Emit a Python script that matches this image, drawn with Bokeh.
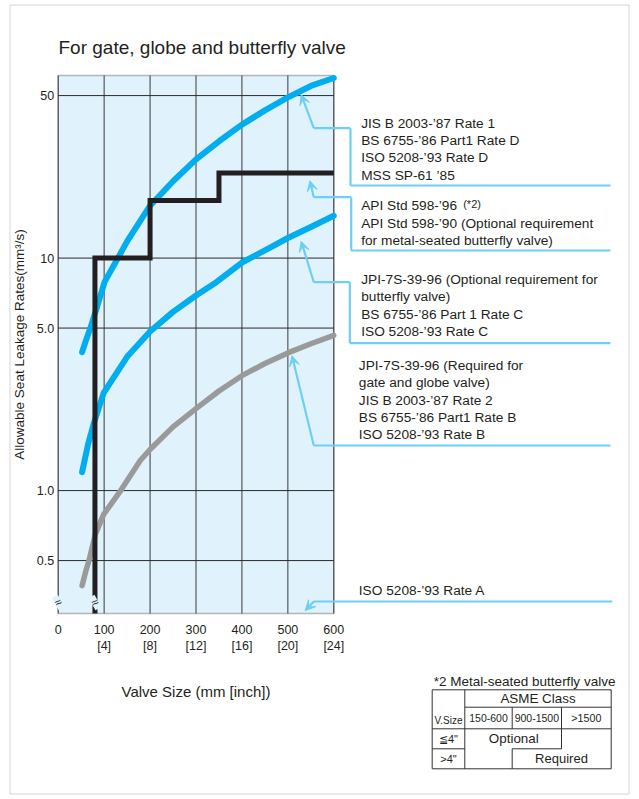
import math
from bokeh.plotting import figure
from bokeh.models import (Range1d, FixedTicker, Label, Arrow, VeeHead, BoxAnnotation,
                          LogScale, LogAxis, LinearAxis)
from bokeh.embed import file_html
from bokeh.resources import INLINE

# ---------------- data ----------------
# Valve size (mm) and allowable seat leakage (mm^3/s)
sizes_D = [52, 60, 70, 85, 101, 130, 150, 200, 250, 300, 350, 400, 450, 500, 550, 600]
rate_D = [3.94, 4.4, 5.0, 6.2, 7.9, 10.0, 11.8, 16.8, 21.4, 26.6, 31.8, 37.5, 43.2, 49.1, 55.0, 59.5]

sizes_C = [52, 65, 78, 99, 150, 200, 250, 300, 345, 400, 450, 500, 550, 600]
rate_C = [1.20, 1.58, 1.96, 2.63, 3.76, 4.83, 5.87, 6.9, 7.9, 9.57, 10.8, 12.2, 13.6, 15.2]

sizes_B = [52, 60, 67, 81, 99, 136, 179, 201, 250, 300, 350, 400, 450, 500, 550, 600]
rate_B = [0.39, 0.45, 0.5, 0.65, 0.79, 1.0, 1.35, 1.51, 1.88, 2.25, 2.68, 3.12, 3.52, 3.91, 4.28, 4.65]

# API 598 step line
step_sizes = [80, 200, 350, 600]
step_rates = [10, 17.7, 23.2, 23.2]

x_ticks = [0, 100, 200, 300, 400, 500, 600]
x_tick_labels = ["0", "100\n[4]", "200\n[8]", "300\n[12]", "400\n[16]", "500\n[20]", "600\n[24]"]
y_ticks = [0.5, 1, 5, 10, 50]
y_tick_labels = ["0.5", "1.0", "5.0", "10", "50"]

X_MIN, X_MAX = 0, 600
Y_MIN, Y_MAX = 0.296, 61.0

# ---------------- layout (canvas pixels) ----------------
W, H = 636, 797
PL, PR, PT, PB = 57.7, 333.3, 75, 613   # chart area inside the canvas
kx = (PR - PL) / (X_MAX - X_MIN)
decade = (PB - PT) / math.log10(Y_MAX / Y_MIN)
xr = Range1d(X_MIN - PL / kx, X_MIN + (W - PL) / kx)
yr = Range1d(Y_MIN * 10 ** (-(H - PB) / decade), Y_MAX * 10 ** (PT / decade))

FONT = "Liberation Sans"
TXT = "#231f20"
BLUE = "#00aeef"
GREY = "#9a9a9a"
LINK = "#6dcff6"
AREA = "#e0f2fc"

p = figure(width=W, height=H, x_range=xr, y_range=yr, x_axis_type=None, y_axis_type=None,
           output_backend="svg", toolbar_location=None, min_border=0)
p.y_scale = LogScale()
p.background_fill_color = "white"
p.border_fill_color = "white"
p.outline_line_color = None
p.grid.visible = False

# chart area
p.add_layout(BoxAnnotation(left=X_MIN, right=X_MAX, bottom=Y_MIN, top=Y_MAX, fill_color=AREA,
                           fill_alpha=1, line_color=None, level="underlay"))
p.segment(x0=x_ticks, y0=[Y_MIN] * len(x_ticks), x1=x_ticks, y1=[Y_MAX] * len(x_ticks),
          line_color="#3a3a3a", line_width=1)
p.segment(x0=[X_MIN] * len(y_ticks), y0=y_ticks, x1=[X_MAX] * len(y_ticks), y1=y_ticks,
          line_color="#2a2a2a", line_width=1)
p.add_layout(BoxAnnotation(left=X_MIN, right=X_MAX, bottom=Y_MIN, top=Y_MAX, fill_alpha=0,
                           line_color=TXT, line_width=1.4, level="underlay"))

# axes placed at the chart area edges
yax = LogAxis(fixed_location=X_MIN, bounds=(Y_MIN, Y_MAX),
              ticker=FixedTicker(ticks=y_ticks, minor_ticks=[]))
yax.major_label_overrides = {t: l for t, l in zip(y_ticks, y_tick_labels)}
xax = LinearAxis(fixed_location=Y_MIN, bounds=(X_MIN, X_MAX),
                 ticker=FixedTicker(ticks=x_ticks, minor_ticks=[]))
xax.major_label_overrides = {t: l for t, l in zip(x_ticks, x_tick_labels)}
for ax in (xax, yax):
    ax.axis_line_color = None
    ax.major_tick_line_color = None
    ax.minor_tick_line_color = None
    ax.major_tick_out = 0
    ax.major_tick_in = 0
    ax.major_label_text_font = FONT
    ax.major_label_text_font_size = "12.5px"
    ax.major_label_text_color = TXT
    ax.axis_label_text_font = FONT
    ax.axis_label_text_font_style = "normal"
    ax.axis_label_text_color = TXT
yax.major_label_standoff = 4
xax.major_label_standoff = 9
yax.axis_label = "Allowable Seat Leakage Rates(mm\u00b3/s)"
yax.axis_label_text_font_size = "13.5px"
yax.axis_label_standoff = 7
xax.axis_label = "Valve Size (mm [inch])"
xax.axis_label_text_font_size = "15px"
xax.axis_label_standoff = 27
p.add_layout(yax, "left")
p.add_layout(xax, "below")

# curves
p.line(sizes_B, rate_B, line_color=GREY, line_width=5.5, line_cap="round", line_join="round")
p.line(sizes_C, rate_C, line_color=BLUE, line_width=6, line_cap="round", line_join="round")
p.line(sizes_D, rate_D, line_color=BLUE, line_width=6, line_cap="round", line_join="round")

sx, sy = [step_sizes[0]], [Y_MIN]
for i in range(len(step_sizes)):
    sx.append(step_sizes[i]); sy.append(step_rates[i])
    if i + 1 < len(step_sizes):
        sx.append(step_sizes[i + 1]); sy.append(step_rates[i])
p.line(sx, sy, line_color=TXT, line_width=5, line_join="miter")

# axis break marks
for bx in (X_MIN, step_sizes[0]):
    p.add_layout(Label(x=bx, y=0.33, text="\u2248", text_font=FONT, text_font_size="12px",
                       text_align="center", text_baseline="middle", text_color=TXT,
                       angle=0.5, background_fill_color=AREA))

# helpers in page (= canvas) coordinates
def lab(text, px, py, size, align="left", color=TXT):
    p.add_layout(Label(x=px, y=py, x_units="canvas", y_units="canvas", text=text,
                       text_font=FONT, text_font_size=size, text_align=align,
                       text_baseline="middle", text_color=color))

def seg(x0, y0, x1, y1, color=LINK, width=2.2):
    p.add_layout(Arrow(end=None, x_start=x0, y_start=y0, x_end=x1, y_end=y1,
                       start_units="canvas", end_units="canvas", line_color=color, line_width=width))

def connector(tip, pts):
    (x0, y0) = pts[0]
    p.add_layout(Arrow(end=VeeHead(size=10, fill_color=LINK, line_color=LINK),
                       x_start=x0, y_start=y0, start_units="canvas",
                       x_end=tip[0], y_end=tip[1], end_units="data",
                       line_color=LINK, line_width=2.2))
    for (a, b), (c, d) in zip(pts[:-1], pts[1:]):
        seg(a, b, c, d)

# outer border
p.add_layout(BoxAnnotation(left=9.5, right=628.5, top=4.5, bottom=793.5,
                           left_units="canvas", right_units="canvas",
                           top_units="canvas", bottom_units="canvas",
                           fill_alpha=0, line_color="#7a7a7a", line_width=1))

# title
lab("For gate, globe and butterfly valve", 58, 47, "19px")

# annotation blocks
F = "13.7px"
for i, t in enumerate(["JIS B 2003-\u201987 Rate 1", "BS 6755-\u201986 Part1 Rate D",
                       "ISO 5208-\u201993 Rate D", "MSS SP-61 \u201985"]):
    lab(t, 360.7, 122.7 + 17.3 * i, F)
connector((529, 50.5), [(313.3, 127.7), (350, 127.7), (350, 185), (610, 185)])

lab("API Std 598-\u201996", 360.7, 205, F)
lab("(*2)", 462.7, 203, "11px")
lab("API Std 598-\u201990 (Optional requirement", 360.7, 222.7, F)
lab("for metal-seated butterfly valve)", 360.7, 240, F)
connector((548, 21.5), [(313.3, 196.7), (350.7, 196.7), (350.7, 250), (610, 250)])

for i, t in enumerate(["JPI-7S-39-96 (Optional requirement for", "butterfly valve)",
                       "BS 6755-\u201986 Part 1 Rate C", "ISO 5208-\u201993 Rate C"]):
    lab(t, 360.7, 279 + 17.3 * i, F)
connector((529, 11.8), [(313.3, 281.7), (349.3, 281.7), (349.3, 342.7), (610, 342.7)])

for i, t in enumerate(["JPI-7S-39-96 (Required for", " gate and globe valve)",
                       "JIS B 2003-\u201987 Rate 2", "BS 6755-\u201986 Part1 Rate B",
                       "ISO 5208-\u201993 Rate B"]):
    lab(t, 358.3, 365 + 17.3 * i, F)
connector((509, 3.8), [(313.3, 445), (610, 445)])

lab("ISO 5208-\u201993 Rate A", 358.3, 590, F)
connector((538, 0.305), [(313.3, 601), (611.7, 601)])

# table
lab("*2 Metal-seated butterfly valve", 433.3, 680.7, "13.5px")
TL = "#333333"
L, R, T, B = 431.7, 610.7, 689.3, 768.3
c1, c2, c3 = 464.3, 511.7, 561.0
r1, r2, r3 = 706.7, 728.3, 748.3
for a in [(L, T, R, T), (L, B, R, B), (L, T, L, B), (R, T, R, B),
          (c1, r1, R, r1), (L, r2, R, r2), (L, r3, c1, r3), (c2, r3, c3, r3),
          (c1, T, c1, B), (c2, r1, c2, r2), (c2, r3, c2, B), (c3, r1, c3, r3)]:
    seg(*a, color=TL, width=1)
lab("ASME Class", (c1 + R) / 2, (T + r1) / 2, "13.4px", "center")
lab("V.Size", (L + c1) / 2, 719.5, "10px", "center")
lab("150-600", (c1 + c2) / 2, 717.5, "10.5px", "center")
lab("900-1500", (c2 + c3) / 2, 717.5, "10.5px", "center")
lab(">1500", (c3 + R) / 2, 717.5, "10.7px", "center")
lab("\u22664\"", (L + c1) / 2, 738.3, "11px", "center")
lab(">4\"", (L + c1) / 2, 758.3, "11px", "center")
lab("Optional", 513.3, 738.3, "13.4px", "center")
lab("Required", 561, 758.3, "13px", "center")

open("out.html", "w").write(file_html(p, INLINE))
